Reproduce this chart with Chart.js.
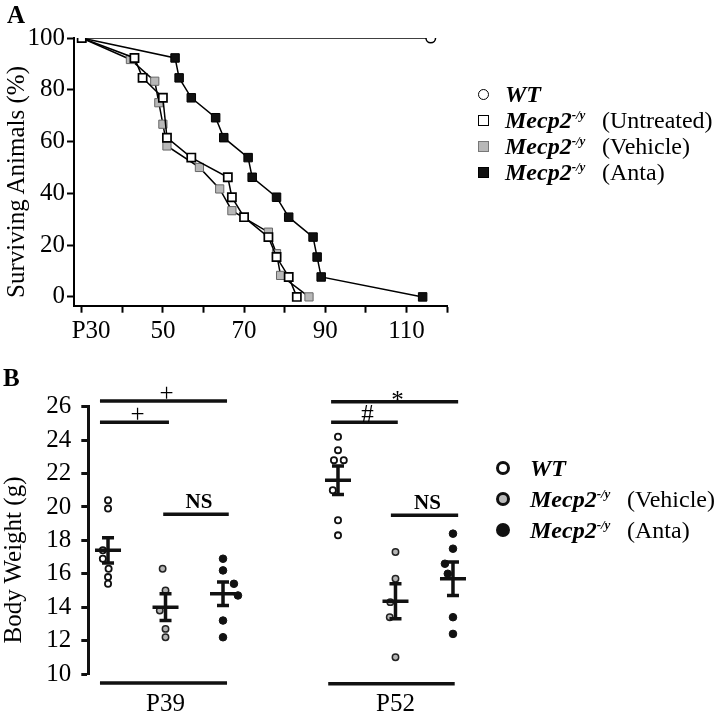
<!DOCTYPE html>
<html>
<head>
<meta charset="utf-8">
<script src="https://cdn.jsdelivr.net/npm/chart.js@4.4.1/dist/chart.umd.min.js"></script>
<style>
  html, body { margin: 0; padding: 0; background: #fff; }
  body { width: 720px; height: 711px; position: relative; overflow: hidden;
         font-family: 'Liberation Serif', 'Times New Roman', serif; color: #000; }
  canvas { position: absolute; left: 0; }
  #chartA { top: 0; }
  #chartB { top: 360px; }
  .panel { position: absolute; font-weight: bold; font-size: 25px; line-height: 25px; }
  .ytitle { position: absolute; font-size: 25px; line-height: 25px; white-space: nowrap;
            transform: translate(-50%, -50%) rotate(-90deg); }
  .leg { position: absolute; font-size: 24px; line-height: 26px; white-space: nowrap; }
  .leg b i, .leg i b { font-weight: bold; font-style: italic; }
  .leg sup { font-size: 13px; font-weight: bold; font-style: italic; vertical-align: 9px; line-height: 0; }
  .mk { position: absolute; box-sizing: border-box; }
</style>
</head>
<body>
<canvas id="chartA" width="720" height="360"></canvas>
<canvas id="chartB" width="720" height="351"></canvas>

<div class="panel" style="left:7px; top:2px;">A</div>
<div class="panel" style="left:3px; top:365px;">B</div>
<div class="ytitle" style="left:15px; top:182px;">Surviving Animals (%)</div>
<div class="ytitle" style="left:12px; top:560px;">Body Weight (g)</div>
<div id="legends"></div>

<script>
// ---- Panel A: survival curves (postnatal day vs % surviving) ----
const wtDays = [30, 116];
const wtSurv = [100, 100];
const untreatedDays = [30, 43, 45, 50, 51, 57, 66, 67, 70, 76, 78, 81, 83];
const untreatedSurv = [100, 92.3, 84.6, 76.9, 61.5, 53.8, 46.2, 38.5, 30.8, 23.1, 15.4, 7.7, 0];
const vehicleDays = [30, 42, 48, 49, 50, 51, 59, 64, 67, 76, 78, 79, 86];
const vehicleSurv = [100, 91.7, 83.3, 75, 66.7, 58.3, 50, 41.7, 33.3, 25, 16.7, 8.3, 0];
const antaDays = [30, 53, 54, 57, 63, 65, 71, 72, 78, 81, 87, 88, 89, 114];
const antaSurv = [100, 92.3, 84.6, 76.9, 69.2, 61.5, 53.8, 46.2, 38.5, 30.8, 23.1, 15.4, 7.7, 0];

const dayTicks = [30, 40, 50, 60, 70, 80, 90, 100, 110, 120];
const dayTickLabels = ['   P30', '', '50', '', '70', '', '90', '', '110', ''];
const survTicks = [0, 20, 40, 60, 80, 100];

// ---- Panel B: body weight (g) per animal ----
const ages = ['P39', 'P52'];
const wtP39 = [20.4, 19.9, 17.4, 16.9, 16.3, 15.8, 15.4];
const wtP39Jitter = [0, 0, -0.09, -0.09, 0.01, 0, 0];
const vehP39 = [16.3, 15.0, 13.8, 12.7, 12.2];
const vehP39Jitter = [-0.05, 0, -0.1, 0, 0];
const antaP39 = [16.9, 16.2, 15.4, 14.7, 13.2, 12.2];
const antaP39Jitter = [0, 0, 0.19, 0.26, 0, 0];
const wtP52 = [24.2, 23.4, 22.8, 22.8, 21.0, 19.2, 18.3];
const wtP52Jitter = [0, 0, -0.07, 0.1, -0.09, 0, 0];
const vehP52 = [17.3, 15.7, 14.3, 13.4, 11.0];
const vehP52Jitter = [0, 0, -0.09, -0.1, 0];
const antaP52 = [18.4, 17.5, 16.6, 16.0, 13.4, 12.4];
const antaP52Jitter = [0, 0, -0.14, -0.09, 0, 0];

// mean +/- SEM, one value per age
const wtMean = [17.4, 21.6];
const wtSem = [0.75, 0.85];
const vehMean = [14.0, 14.35];
const vehSem = [0.8, 1.05];
const antaMean = [14.8, 15.7];
const antaSem = [0.7, 1.0];

const weightTicks = [10, 12, 14, 16, 18, 20, 22, 24, 26];

// significance bars (x in group units, y in grams)
const sigFrom = [-0.14, -0.14, 0.96, 3.88, 3.88, 4.92];
const sigTo = [2.07, 1.06, 2.1, 6.09, 5.04, 6.09];
const sigLevel = [26.34, 25.07, 19.56, 26.3, 25.07, 19.5];
const sigMark = ['+', '+', 'NS', '*', '#', 'NS'];
const baseFrom = [-0.14, 3.83];
const baseTo = [2.07, 6.03];
const baseLevel = [9.46, 9.42];

Chart.defaults.font.family = "'Liberation Serif', 'Times New Roman', serif";
Chart.defaults.color = '#000';

const toPts = (xs, ys) => xs.map((x, i) => ({ x: x, y: ys[i] }));

// ---------- Chart A ----------
new Chart(document.getElementById('chartA'), {
  type: 'line',
  data: {
    datasets: [
      { label: 'WT', data: toPts(wtDays, wtSurv), order: 4,
        borderColor: '#000', borderWidth: 1.5,
        pointStyle: 'circle', pointRadius: c => c.dataIndex === 0 ? 0 : 4.8,
        pointBackgroundColor: '#fff', pointBorderColor: '#000', pointBorderWidth: 1.5 },
      { label: 'Untreated', data: toPts(untreatedDays, untreatedSurv), order: 1,
        borderColor: '#000', borderWidth: 1.5,
        pointStyle: 'rect', pointRadius: 5.8,
        pointBackgroundColor: '#fff', pointBorderColor: '#000', pointBorderWidth: 1.7 },
      { label: 'Vehicle', data: toPts(vehicleDays, vehicleSurv), order: 2,
        borderColor: '#000', borderWidth: 1.5,
        pointStyle: 'rect', pointRadius: 5.8,
        pointBackgroundColor: '#b8b8b8', pointBorderColor: '#666', pointBorderWidth: 1 },
      { label: 'Anta', data: toPts(antaDays, antaSurv), order: 3,
        borderColor: '#000', borderWidth: 1.5,
        pointStyle: 'rect', pointRadius: 6,
        pointBackgroundColor: '#111', pointBorderColor: '#000', pointBorderWidth: 1 }
    ]
  },
  options: {
    responsive: false,
    animation: false,
    layout: { padding: { top: 38, right: 273, left: 0, bottom: 0 } },
    plugins: { legend: { display: false }, tooltip: { enabled: false } },
    elements: { line: { tension: 0 } },
    scales: {
      x: {
        type: 'linear', min: 28.1, max: 120,
        afterBuildTicks: s => { s.ticks = dayTicks.map(v => ({ value: v })); },
        afterFit: s => { s.height = 54.3; },
        ticks: { autoSkip: false, maxRotation: 0, padding: 4, font: { size: 25 },
                 callback: (v, i) => dayTickLabels[i] },
        grid: { drawOnChartArea: false, drawTicks: true, tickLength: 7, tickColor: '#000', tickWidth: 2 },
        border: { color: '#000', width: 2 }
      },
      y: {
        type: 'linear', min: -3.4, max: 100,
        afterBuildTicks: s => { s.ticks = survTicks.map(v => ({ value: v })); },
        afterFit: s => { s.width = 74; },
        ticks: { padding: 2, font: { size: 25 } },
        grid: { drawOnChartArea: false, drawTicks: true, tickLength: 7, tickColor: '#000', tickWidth: 2 },
        border: { color: '#000', width: 2 }
      }
    }
  }
});

// ---------- Chart B ----------
const groupPts = (vals, jit, age, g) => vals.map((v, i) => ({ x: age * 4 + g + jit[i], y: v }));

const meanSemPlugin = {
  id: 'meanSem',
  afterDatasetsDraw(chart) {
    const { ctx, scales: { x, y } } = chart;
    const means = [wtMean, vehMean, antaMean];
    const sems = [wtSem, vehSem, antaSem];
    ctx.save();
    ctx.strokeStyle = '#111';
    ctx.lineWidth = 3.5;
    means.forEach((m, g) => m.forEach((mv, a) => {
      const cx = x.getPixelForValue(a * 4 + g);
      const ym = y.getPixelForValue(mv);
      const yt = y.getPixelForValue(mv + sems[g][a]);
      const yb = y.getPixelForValue(mv - sems[g][a]);
      ctx.beginPath();
      ctx.moveTo(cx - 13, ym); ctx.lineTo(cx + 13, ym);
      ctx.moveTo(cx, yt); ctx.lineTo(cx, yb);
      ctx.moveTo(cx - 6, yt); ctx.lineTo(cx + 6, yt);
      ctx.moveTo(cx - 6, yb); ctx.lineTo(cx + 6, yb);
      ctx.stroke();
    }));
    ctx.restore();
  }
};

const bracketPlugin = {
  id: 'brackets',
  afterDraw(chart) {
    const { ctx, scales: { x, y } } = chart;
    ctx.save();
    ctx.strokeStyle = '#111';
    ctx.fillStyle = '#000';
    ctx.lineWidth = 3.5;
    ctx.textAlign = 'center';
    ctx.textBaseline = 'alphabetic';
    sigFrom.forEach((f, i) => {
      const x0 = x.getPixelForValue(f), x1 = x.getPixelForValue(sigTo[i]);
      const yy = y.getPixelForValue(sigLevel[i]);
      ctx.beginPath(); ctx.moveTo(x0, yy); ctx.lineTo(x1, yy); ctx.stroke();
      const isNS = sigMark[i] === 'NS';
      ctx.font = (isNS ? 'bold 21px ' : '25px ') + Chart.defaults.font.family;
      ctx.fillText(sigMark[i], (x0 + x1) / 2 + 3, yy + (sigMark[i] === '*' ? 6 : (isNS ? -6 : 0)));
    });
    baseFrom.forEach((f, i) => {
      const yy = y.getPixelForValue(baseLevel[i]);
      ctx.beginPath();
      ctx.moveTo(x.getPixelForValue(f), yy);
      ctx.lineTo(x.getPixelForValue(baseTo[i]), yy);
      ctx.stroke();
    });
    ctx.restore();
  }
};

new Chart(document.getElementById('chartB'), {
  type: 'scatter',
  data: {
    datasets: [
      { label: 'WT', data: groupPts(wtP39, wtP39Jitter, 0, 0).concat(groupPts(wtP52, wtP52Jitter, 1, 0)),
        pointRadius: 3.1, pointBackgroundColor: '#fff', pointBorderColor: '#111', pointBorderWidth: 1.8 },
      { label: 'Vehicle', data: groupPts(vehP39, vehP39Jitter, 0, 1).concat(groupPts(vehP52, vehP52Jitter, 1, 1)),
        pointRadius: 3.2, pointBackgroundColor: '#b5b5b5', pointBorderColor: '#222', pointBorderWidth: 1.5 },
      { label: 'Anta', data: groupPts(antaP39, antaP39Jitter, 0, 2).concat(groupPts(antaP52, antaP52Jitter, 1, 2)),
        pointRadius: 3.8, pointBackgroundColor: '#111', pointBorderColor: '#111', pointBorderWidth: 1 }
    ]
  },
  options: {
    responsive: false,
    animation: false,
    layout: { padding: { top: 46.7, right: 240, left: 0, bottom: 0 } },
    plugins: { legend: { display: false }, tooltip: { enabled: false } },
    scales: {
      x: {
        type: 'linear', min: -0.343, max: 6.47,
        afterBuildTicks: s => { s.ticks = [1, 5].map(v => ({ value: v })); },
        afterFit: s => { s.height = 37; },
        ticks: { autoSkip: false, maxRotation: 0, padding: 7, font: { size: 25 },
                 callback: (v, i) => ages[i] },
        grid: { display: false },
        border: { display: false }
      },
      y: {
        type: 'linear', min: 10, max: 26,
        afterBuildTicks: s => { s.ticks = weightTicks.map(v => ({ value: v })); },
        afterFit: s => { s.width = 88.3; },
        ticks: { padding: 10, font: { size: 25 } },
        grid: { drawOnChartArea: false, drawTicks: true, tickLength: 7, tickColor: '#111', tickWidth: 3 },
        border: { color: '#111', width: 3 }
      }
    }
  },
  plugins: [meanSemPlugin, bracketPlugin]
});

// ---------- legends (HTML text) ----------
const legendA = [
  { name: 'WT', tag: '', shape: 'circle', fill: '#fff', edge: '#000', bw: 1.6 },
  { name: 'Mecp2', tag: '(Untreated)', shape: 'rect', fill: '#fff', edge: '#000', bw: 1.6 },
  { name: 'Mecp2', tag: '(Vehicle)', shape: 'rect', fill: '#b8b8b8', edge: '#777', bw: 1 },
  { name: 'Mecp2', tag: '(Anta)', shape: 'rect', fill: '#111', edge: '#000', bw: 1 }
];
const legendB = [
  { name: 'WT', tag: '', shape: 'circle', fill: '#fff', edge: '#111', bw: 3 },
  { name: 'Mecp2', tag: '(Vehicle)', shape: 'circle', fill: '#bbb', edge: '#111', bw: 3 },
  { name: 'Mecp2', tag: '(Anta)', shape: 'circle', fill: '#111', edge: '#111', bw: 3 }
];

function drawLegend(items, mx, tx, y0, dy, size) {
  const host = document.getElementById('legends');
  items.forEach((it, i) => {
    const cy = y0 + i * dy;
    const mk = document.createElement('div');
    mk.className = 'mk';
    mk.style.cssText = `left:${mx - size / 2}px;top:${cy - size / 2}px;width:${size}px;height:${size}px;` +
      `background:${it.fill};border:${it.bw}px solid ${it.edge};` +
      (it.shape === 'circle' ? 'border-radius:50%;' : '');
    host.appendChild(mk);
    const t = document.createElement('div');
    t.className = 'leg';
    t.style.left = tx + 'px';
    t.style.top = (cy - 13) + 'px';
    t.innerHTML = it.name === 'WT' ? '<b><i>WT</i></b>' : '<b><i>Mecp2</i></b><sup>-/y</sup>';
    host.appendChild(t);
    if (it.tag) {
      const p = document.createElement('div');
      p.className = 'leg';
      p.style.left = (tx + 97) + 'px';
      p.style.top = (cy - 13) + 'px';
      p.textContent = it.tag;
      host.appendChild(p);
    }
  });
}
drawLegend(legendA, 483, 505, 94, 26, 11);
drawLegend(legendB, 503, 530, 468, 31, 14);
</script>
</body>
</html>
